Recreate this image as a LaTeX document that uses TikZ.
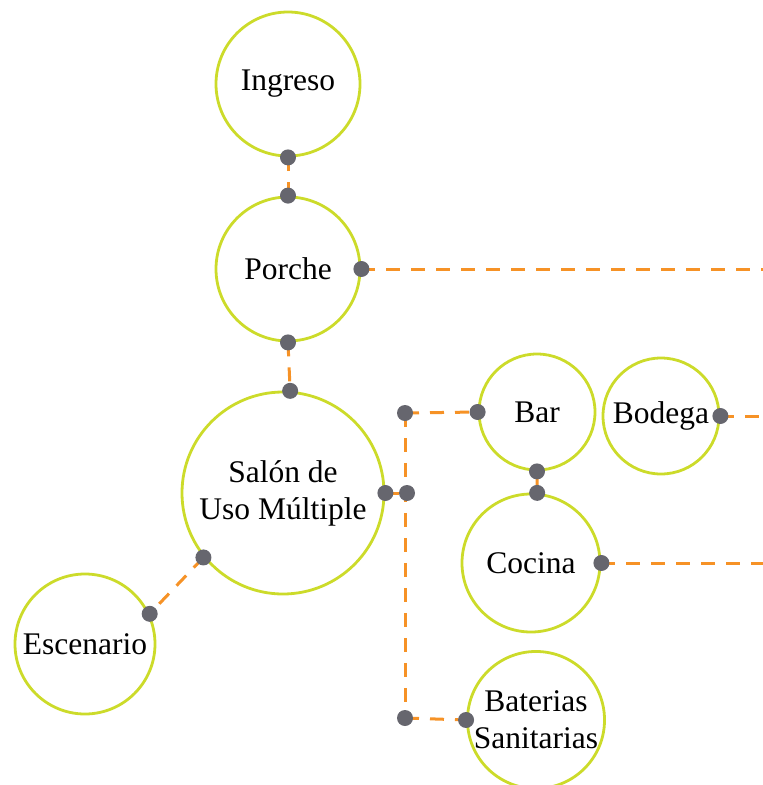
\documentclass[tikz,border=0pt]{standalone}
\usepackage{fontspec}
\setmainfont{Liberation Serif}
\usetikzlibrary{positioning}
\definecolor{verdelima}{RGB}{204,219,42}
\definecolor{naranja}{RGB}{246,146,38}
\definecolor{grispunto}{RGB}{102,102,110}

\begin{document}
\begin{tikzpicture}[x=1pt, y=-1pt,
        every node/.style={font=\fontsize{31.5}{37}\selectfont, align=center},
        espacio/.style={circle, draw=verdelima, line width=2.8pt, inner sep=0pt},
        enlace/.style={draw=naranja, line width=3pt, dash pattern=on 14pt off 11pt},
        punto/.style={fill=grispunto}
    ]
        \useasboundingbox (0,0) rectangle (763,785);

        % espacios
        \node[espacio, minimum size=144pt] (ingreso)   at (288,84)  {Ingreso};
        \node[espacio, minimum size=144pt] (porche)    at (288,269) {Porche};
        \node[espacio, minimum size=202pt] (salon)     at (283,493) {Salón de\\Uso Múltiple};
        \node[espacio, minimum size=140pt] (escenario) at (85,644)  {Escenario};
        \node[espacio, minimum size=116pt] (bar)       at (537,412) {Bar};
        \node[espacio, minimum size=116pt] (bodega)    at (661,416) {Bodega};
        \node[espacio, minimum size=138pt] (cocina)    at (531,563) {Cocina};
        \node[espacio, minimum size=136pt] (baterias)  at (536,720) {Baterias\\Sanitarias};

        \coordinate (union)   at (407,493);
        \coordinate (arriba)  at (405,413);
        \coordinate (abajo)   at (405,718);
        \coordinate (borde1)  at (763,269);
        \coordinate (borde2)  at (763,416);
        \coordinate (borde3)  at (763,563);

        % enlaces
        \draw[enlace] (ingreso.south) -- (porche.north);
        \draw[enlace] (porche.south) -- (salon.86);
        \draw[enlace] (porche.east) -- (borde1);
        \draw[enlace] (salon.219) -- (escenario.25);
        \draw[enlace] (salon.east) -- (union);
        \draw[enlace] (arriba) -- (abajo);
        \draw[enlace] (arriba) -- (bar.west);
        \draw[enlace] (abajo) -- (baterias.west);
        \draw[enlace] (bar.south) -- (cocina.85);
        \draw[enlace] (bodega.east) -- (borde2);
        \draw[enlace] (cocina.east) -- (borde3);

        % puntos
        \foreach \p in {ingreso.south, porche.north, porche.south, salon.86,
                        porche.east, salon.219, escenario.25, salon.east,
                        union, arriba, abajo, bar.west, baterias.west,
                        bar.south, cocina.85, bodega.east, cocina.east}
            \fill[punto] (\p) circle[radius=8pt];
    \end{tikzpicture}
\end{document}
